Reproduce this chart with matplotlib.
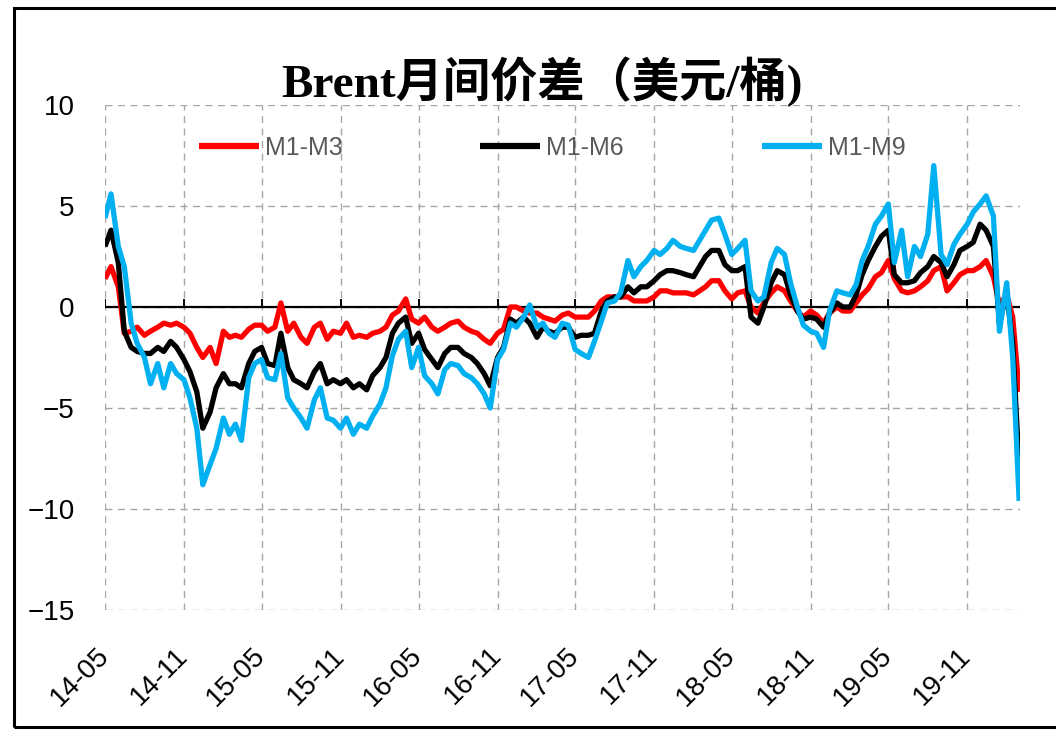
import matplotlib
matplotlib.use("Agg")
import matplotlib.pyplot as plt
import pandas as pd
from matplotlib import font_manager
from matplotlib.patches import Rectangle

# ---------------- data (semi-monthly readings, 2014-05-01 .. 2020-03-01) ----------------
dates = pd.date_range("2014-05-01", "2020-03-01", freq="SMS")

m1_m3 = [
    1.4, 2.0, 1.0, -1.3, -1.2, -1.0, -1.4, -1.2, -1.0, -0.8, -0.9, -0.8,
    -1.0, -1.3, -2.0, -2.5,
    -2.0, -2.8, -1.2, -1.5, -1.4, -1.5, -1.1, -0.9, -0.9, -1.2, -1.0, 0.2,
    -1.2, -0.8, -1.5, -1.8, -1.0, -0.8, -1.6, -1.2, -1.3, -0.8, -1.5, -1.4,
    -1.5, -1.3, -1.2, -1.0, -0.4, -0.2, 0.4, -0.6, -0.8, -0.5, -1.0, -1.2,
    -1.0, -0.8, -0.7, -1.0, -1.2, -1.3, -1.6, -1.8, -1.3, -1.1, 0.0, 0.0,
    -0.2, -0.3, -0.3, -0.5, -0.6, -0.7, -0.4, -0.3, -0.5, -0.5, -0.5, -0.2,
    0.3, 0.5, 0.5, 0.5, 0.5, 0.3, 0.3, 0.3, 0.5, 0.8, 0.8, 0.7,
    0.7, 0.7, 0.6, 0.8, 1.0, 1.3, 1.3, 0.8, 0.4, 0.7, 0.8, 0.0,
    -0.3, 0.2, 0.7, 1.0, 0.8, 0.3, -0.2, -0.5, -0.2, -0.4, -0.8, -0.3,
    0.0, -0.2, -0.2, 0.2, 0.6, 0.9, 1.5, 1.7, 2.3, 1.4, 0.8, 0.7,
    0.8, 1.0, 1.3, 1.8, 2.0, 0.8, 1.2, 1.6, 1.8, 1.8, 2.0, 2.3,
    1.5, 0.1, 0.6, -0.5, -4.2,
]
m1_m6 = [
    3.0, 3.8, 2.2, -1.2, -2.0, -2.2, -2.3, -2.3, -2.0, -2.2, -1.7, -2.0,
    -2.6, -3.2, -4.2, -6.0,
    -5.2, -4.0, -3.3, -3.8, -3.8, -4.0, -2.8, -2.2, -2.0, -2.8, -2.9, -1.3,
    -3.0, -3.6, -3.8, -4.0, -3.2, -2.8, -3.8, -3.6, -3.8, -3.6, -4.0, -3.8,
    -4.1, -3.4, -3.0, -2.5, -1.3, -0.8, -0.5, -1.8, -1.3, -2.1, -2.6, -3.0,
    -2.3, -2.0, -2.0, -2.3, -2.5, -2.8, -3.3, -3.9, -2.5, -2.0, -0.6, -0.8,
    -0.5, -0.8, -1.5, -1.0, -1.2, -1.3, -1.0, -1.0, -1.5, -1.4, -1.4, -1.3,
    -0.2, 0.3, 0.5, 0.5, 1.0, 0.7, 1.0, 1.0, 1.3, 1.6, 1.8, 1.8,
    1.7, 1.6, 1.5, 2.0, 2.5, 2.8, 2.8, 2.1, 1.8, 1.8, 2.0, -0.5,
    -0.8, 0.0, 1.2, 1.8, 1.6, 0.6, -0.2, -0.6, -0.5, -0.6, -1.0, -0.3,
    0.2, 0.0, 0.0, 0.6, 1.6, 2.3, 3.0, 3.5, 3.8, 1.6, 1.2, 1.2,
    1.3, 1.7, 2.0, 2.5, 2.2, 1.5, 2.1, 2.8, 3.0, 3.2, 4.1, 3.8,
    3.0, -0.8, 0.7, -1.8, -8.0,
]
m1_m9 = [
    4.4, 5.6, 3.0, 2.0, -0.8, -1.8, -2.5, -3.8, -2.8, -4.0, -2.8, -3.3,
    -3.6, -4.5, -6.0, -8.8,
    -7.8, -7.0, -5.5, -6.3, -5.8, -6.6, -3.5, -2.8, -2.6, -3.5, -3.6, -2.3,
    -4.5, -5.0, -5.5, -6.0, -4.6, -4.0, -5.5, -5.6, -6.0, -5.5, -6.3, -5.8,
    -6.0, -5.4, -4.8, -4.0, -2.4, -1.6, -1.2, -3.0, -2.0, -3.4, -3.8, -4.3,
    -3.1, -2.8, -2.9, -3.3, -3.5, -3.8, -4.3, -5.0, -2.6, -2.1, -0.8, -1.0,
    -0.5, 0.1, -1.0, -0.8, -1.3, -1.5, -0.8, -0.9, -2.1, -2.3, -2.5, -1.7,
    -0.7, 0.2, 0.3, 0.7, 2.3, 1.5, 2.0, 2.3, 2.8, 2.6, 2.9, 3.3,
    3.0, 2.9, 2.8, 3.3, 3.8, 4.3, 4.4, 3.6, 2.6, 2.9, 3.3, 0.8,
    0.3, 0.5, 2.2, 2.9, 2.6, 1.2, 0.0, -0.9, -1.2, -1.3, -2.0, -0.2,
    0.8, 0.7, 0.6, 1.1, 2.3, 3.0, 4.1, 4.5, 5.1, 2.2, 3.8, 1.5,
    3.0, 2.5, 3.6, 7.0, 2.6, 2.1, 3.1, 3.6, 4.1, 4.7, 5.1, 5.5,
    4.5, -1.2, 1.2, -2.5, -9.6,
]
series_names = ["M1-M3", "M1-M6", "M1-M9"]
series_colors = ["#FF0000", "#000000", "#00B0F0"]
y_ticks = [10, 5, 0, -5, -10, -15]
x_ticks = pd.date_range("2014-05-01", "2019-11-01", freq="6MS")
x_ticklabels = [d.strftime("%y-%m") for d in x_ticks]
title = "Brent月间价差（美元/桶)"

# ---------------- fonts ----------------
avail = {f.name for f in font_manager.fontManager.ttflist}
tick_font = "Liberation Sans Narrow" if "Liberation Sans Narrow" in avail else "Liberation Sans"

# ---------------- figure ----------------
W, H = 1056, 731
fig = plt.figure(figsize=(W / 100, H / 100), dpi=100)
L, R, T, B = 105, 1020, 105, 610
ax = fig.add_axes([L / W, 1 - B / H, (R - L) / W, (B - T) / H])

for vals, name, col, z in zip([m1_m3, m1_m6, m1_m9], series_names, series_colors, [3, 4, 5]):
    ax.plot(dates, vals, color=col, lw=3.8, label=name, zorder=z,
            solid_joinstyle="round", solid_capstyle="butt")

ax.set_ylim(-15, 10)
ax.set_yticks(y_ticks)
ax.set_xlim(pd.Timestamp("2014-05-01"), pd.Timestamp("2020-03-03"))
ax.set_xticks(x_ticks)
ax.set_xticklabels(x_ticklabels)

ax.grid(True, color="#A6A6A6", ls=(0, (5, 4)), lw=1.0, zorder=0)
for s in ax.spines.values():
    s.set_visible(False)
ax.tick_params(axis="both", length=0)
ax.tick_params(axis="y", pad=22, labelsize=20, labelcolor="black")
ax.tick_params(axis="x", pad=30, labelsize=20, labelcolor="black")
for lab in ax.get_yticklabels():
    lab.set_fontfamily(tick_font)
for lab in ax.get_xticklabels():
    lab.set_fontfamily(tick_font)
    lab.set_rotation(45)
    lab.set_ha("right")
    lab.set_va("center")
    lab.set_rotation_mode("anchor")

# zero axis line with small inward ticks
ax.axhline(0, color="black", lw=1.6, zorder=2)
ax.vlines(x_ticks, 0.6, 0.615, transform=ax.get_xaxis_transform(), color="black", lw=1.4, zorder=2)

# title
fig.text(542 / W, 1 - 82 / H, title, ha="center", va="center", fontsize=34,
         fontweight="bold", family=["Liberation Serif", "Noto Sans CJK SC"])

# legend
leg = ax.legend(loc="center", bbox_to_anchor=(552 / W, 1 - 148 / H), bbox_transform=fig.transFigure,
                ncol=3, frameon=False, handlelength=2.4, handletextpad=0.25, columnspacing=5.5,
                prop={"family": tick_font, "size": 18})
for t in leg.get_texts():
    t.set_color("#595959")
for h in leg.get_lines():
    h.set_linewidth(4.5)

# outer border
fig.add_artist(Rectangle((14 / W, 4 / H), 1.2, (723 - 4) / H, transform=fig.transFigure,
                         fill=False, edgecolor="black", lw=2.2))

fig.savefig("out.png", dpi=100)
